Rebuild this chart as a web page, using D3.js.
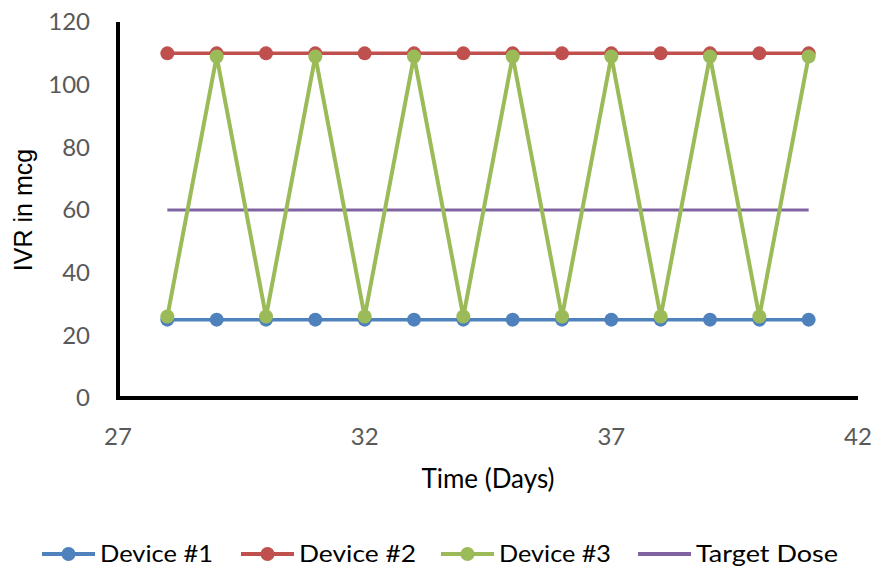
<!DOCTYPE html>
<html><head><meta charset="utf-8">
<script src="https://cdn.jsdelivr.net/npm/d3@7"></script>
<style>body{margin:0;background:#fff}svg{display:block}text{font-family:Lato,"Open Sans",sans-serif}</style>
</head><body>
<svg id="c" width="872" height="568"></svg>
<script>
const days = [28,29,30,31,32,33,34,35,36,37,38,39,40,41];
const device1 = [25,25,25,25,25,25,25,25,25,25,25,25,25,25];
const device2 = [110,110,110,110,110,110,110,110,110,110,110,110,110,110];
const device3 = [26,109,26,109,26,109,26,109,26,109,26,109,26,109];
const targetDose = [60,60,60,60,60,60,60,60,60,60,60,60,60,60];
const xTicks = [27,32,37,42];
const yTicks = [0,20,40,60,80,100,120];
const seriesNames = ["Device #1","Device #2","Device #3","Target Dose"];
const colors = ["#4F81BD","#C0504D","#9BBB59","#8064A2"];

const svg = d3.select("#c");
const L=118, R=858, T=22, B=398;
const x = d3.scaleLinear().domain([27,42]).range([L,R]);
const y = d3.scaleLinear().domain([0,120]).range([B,T]);

// tick labels
svg.append("g").selectAll("text").data(yTicks).join("text")
  .attr("x", 90).attr("y", d=>y(d)).attr("dy","0.35em")
  .attr("text-anchor","end").attr("font-size",24).attr("fill","#595959").text(d=>d);
svg.append("g").selectAll("text").data(xTicks).join("text")
  .attr("x", d=>x(d)).attr("y", 445)
  .attr("text-anchor","middle").attr("font-size",24).attr("fill","#595959").text(d=>d);

// axes
svg.append("line").attr("x1",L).attr("x2",L).attr("y1",T).attr("y2",B+2).attr("stroke","#000").attr("stroke-width",4);
svg.append("line").attr("x1",L-2).attr("x2",R).attr("y1",B).attr("y2",B).attr("stroke","#000").attr("stroke-width",4);

// titles
svg.append("text").attr("transform",`translate(32,${(T+B)/2}) rotate(-90)`)
  .attr("text-anchor","middle").attr("font-size",25).attr("fill","#000")
  .style("font-family","'Liberation Sans',Arial,sans-serif").text("IVR in mcg");
svg.append("text").attr("x",(L+R)/2).attr("y",488).attr("text-anchor","middle")
  .attr("font-size",26).attr("fill","#000").text("Time (Days)");

const allSeries = [device1, device2, device3, targetDose];
const line = d3.line().x((d,i)=>x(days[i])).y(d=>y(d));
const widths = [3.5,3.5,4,3];
[3,0,1,2].forEach(si=>{
  const g = svg.append("g");
  g.append("path").datum(allSeries[si]).attr("d",line).attr("fill","none")
    .attr("stroke",colors[si]).attr("stroke-width",widths[si]).attr("stroke-linejoin","round");
  if(si<3){
    g.selectAll("circle").data(allSeries[si]).join("circle")
      .attr("cx",(d,i)=>x(days[i])).attr("cy",d=>y(d)).attr("r",7).attr("fill",colors[si]);
  }
});

// legend
const legX = [42,241,441,638];
const legW = [113,117,112,142];
const lg = svg.append("g");
seriesNames.forEach((n,i)=>{
  const g = lg.append("g").attr("transform",`translate(${legX[i]},554)`);
  g.append("line").attr("x1",0).attr("x2",53).attr("y1",0).attr("y2",0).attr("stroke",colors[i]).attr("stroke-width",4);
  if(i<3) g.append("circle").attr("cx",26.5).attr("cy",0).attr("r",7).attr("fill",colors[i]);
  g.append("text").attr("x",58).attr("y",0).attr("dy","0.35em").attr("font-size",24).attr("fill","#000")
    .attr("textLength",legW[i]).attr("lengthAdjust","spacingAndGlyphs").text(n);
});
</script>
</body></html>
